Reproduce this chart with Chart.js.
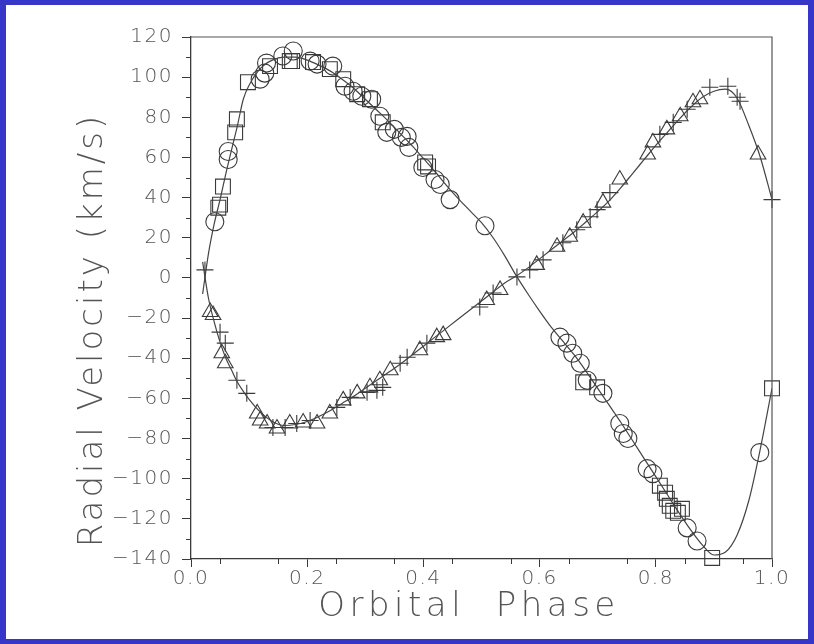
<!DOCTYPE html>
<html>
<head>
<meta charset="utf-8">
<script src="https://cdn.jsdelivr.net/npm/chart.js@4"></script>
<style>
  html, body { margin: 0; padding: 0; background: #fff; }
  #wrap { position: relative; width: 814px; height: 644px; }
  #rv { position: absolute; left: 0; top: 0; }
  #frame { position: absolute; left: 0; top: 0; width: 802px; height: 634px;
           border: 6px solid #3636c8; border-top-width: 5px; pointer-events: none; }
</style>
</head>
<body>
<div id="wrap">
  <canvas id="rv" width="814" height="644"></canvas>
  <div id="frame"></div>
</div>
<script>
// Observed velocities, [phase, km/s]
const primaryCircles = [
  [0.041, 28], [0.064, 63], [0.064, 59], [0.119, 99], [0.127, 102], [0.130, 107],
  [0.158, 110.5], [0.176, 113], [0.205, 108], [0.217, 106.5], [0.244, 105.5],
  [0.265, 95.5], [0.279, 93], [0.294, 90.5], [0.311, 89], [0.325, 80.5],
  [0.337, 72.5], [0.350, 74], [0.362, 70], [0.372, 70.5], [0.375, 65],
  [0.399, 55], [0.420, 49], [0.429, 46.5], [0.446, 39], [0.506, 26],
  [0.635, -29.5], [0.647, -32.5], [0.657, -37.5], [0.670, -42.5], [0.682, -51],
  [0.709, -57.5], [0.738, -72.5], [0.744, -77.5], [0.752, -80], [0.785, -95],
  [0.795, -97.5], [0.854, -124.5], [0.871, -131], [0.979, -87]
];
const primarySquares = [
  [0.047, 35], [0.050, 36.5], [0.055, 45.5], [0.076, 72.5], [0.079, 79],
  [0.098, 97.5], [0.136, 105.5], [0.170, 108], [0.174, 108], [0.210, 107.5],
  [0.239, 104], [0.262, 99], [0.286, 91.5], [0.308, 89], [0.330, 77.5],
  [0.403, 57.5], [0.408, 55.5], [0.675, -52], [0.699, -54.5], [0.807, -103.5],
  [0.816, -107], [0.819, -110], [0.824, -113.5], [0.830, -116], [0.838, -117],
  [0.845, -115], [0.897, -139.5], [1.000, -55]
];
const secondaryPlus = [
  [0.024, 4], [0.050, -27], [0.059, -32.5], [0.079, -51], [0.096, -57.5],
  [0.141, -74.5], [0.162, -74.5], [0.182, -72.5], [0.205, -71], [0.251, -64.5],
  [0.274, -59.5], [0.303, -57], [0.320, -56], [0.330, -54.5], [0.360, -42.5],
  [0.372, -39.5], [0.406, -32.5], [0.497, -14.5], [0.520, -7.5], [0.561, 0.5],
  [0.583, 4], [0.606, 9], [0.640, 17.5], [0.664, 24], [0.687, 30.5], [0.699, 34],
  [0.721, 42.5], [0.807, 71.5], [0.830, 77.5], [0.854, 84], [0.893, 95],
  [0.924, 95.5], [0.940, 90], [0.945, 88], [1.000, 39]
];
const secondaryTriangles = [
  [0.033, -17], [0.038, -18.5], [0.053, -37.5], [0.059, -42.5], [0.114, -67.5],
  [0.119, -71], [0.131, -72.5], [0.148, -75], [0.170, -72.5], [0.193, -72],
  [0.217, -72.5], [0.239, -67.5], [0.262, -61], [0.286, -57.5], [0.308, -54.5],
  [0.325, -51], [0.343, -46], [0.394, -36], [0.423, -29.5], [0.434, -28.5],
  [0.509, -11], [0.532, -6], [0.595, 6.5], [0.630, 15.5], [0.652, 20.5],
  [0.675, 27.5], [0.709, 37.5], [0.738, 49], [0.786, 61.5], [0.795, 67.5],
  [0.819, 74], [0.842, 80.5], [0.864, 87.5], [0.876, 89], [0.976, 61.5]
];

// Orbit solution curves
const curvePhase = [0.02, 0.03, 0.04, 0.05, 0.06, 0.07, 0.08, 0.09, 0.10, 0.12,
  0.14, 0.16, 0.18, 0.20, 0.22, 0.24, 0.26, 0.28, 0.30, 0.32, 0.34, 0.36, 0.38,
  0.40, 0.42, 0.44, 0.46, 0.48, 0.50, 0.52, 0.54, 0.56, 0.58, 0.60, 0.62, 0.64,
  0.66, 0.68, 0.70, 0.72, 0.74, 0.76, 0.78, 0.80, 0.82, 0.84, 0.86, 0.88, 0.90,
  0.92, 0.94, 0.96, 0.98, 1.00];
const primaryCurve = [-8, 12, 27, 39, 52, 64, 76, 89, 96, 104.5,
  108.5, 110, 110, 108.5, 106, 103, 99, 94.5, 89, 83.5, 78, 72, 66,
  59.5, 53, 46, 39.5, 33.5, 27.5, 20, 11, 1, -8, -16.5, -24.5, -31.5,
  -38.5, -46.5, -55, -63.5, -72, -81, -90, -99, -108, -117, -125.5, -133, -138,
  -136.5, -128, -111, -85, -55];
const secondaryCurve = [8, -10, -22, -32, -40, -46, -52, -56.5, -60.5, -67,
  -71.5, -73.5, -73, -71.5, -69, -66, -62.5, -59, -55, -51, -47, -43, -38.5,
  -34, -29.5, -25, -20.5, -16, -11.5, -7, -2.5, 1, 5, 9.5, 14, 18.5,
  23, 28, 33, 38.5, 45, 52, 59, 66, 72.5, 79, 85, 90, 93,
  94, 89.5, 76, 60, 39];

const xTicks = [0, 0.2, 0.4, 0.6, 0.8, 1.0];
const yTicks = [-140, -120, -100, -80, -60, -40, -20, 0, 20, 40, 60, 80, 100, 120];
const xTitle = 'Orbital  Phase';
const yTitle = 'Radial Velocity (km/s)';

const ink = '#3a3a3a';
const textGray = '#555';
const toXY = arr => arr.map(p => ({ x: p[0], y: p[1] }));
const curveXY = vals => curvePhase.map((ph, i) => ({ x: ph, y: vals[i] }));

function markerSet(label, arr, style, radius) {
  return {
    type: 'scatter', label: label, data: toXY(arr),
    pointStyle: style, pointRadius: radius, pointHoverRadius: radius,
    borderColor: ink, backgroundColor: 'rgba(0,0,0,0)', pointBorderWidth: 1.1,
    clip: false
  };
}
function curveSet(label, vals) {
  return {
    type: 'line', label: label, data: curveXY(vals),
    borderColor: '#444', borderWidth: 1.2, pointRadius: 0,
    cubicInterpolationMode: 'monotone', fill: false
  };
}

// slightly wide lettering for the tick labels, like the plotter font
const wideText = {
  id: 'wideText',
  beforeDraw(chart) { chart.ctx.letterSpacing = '1.5px'; },
  afterDraw(chart) { chart.ctx.letterSpacing = '0px'; }
};

// box lines on top/right, minor ticks and the two axis titles
const frameAndMinor = {
  id: 'frameAndMinor',
  afterDraw(chart) {
    const { ctx, chartArea: a, scales: { x, y } } = chart;
    ctx.save();
    ctx.strokeStyle = '#555';
    ctx.lineWidth = 1.2;
    ctx.beginPath();
    ctx.moveTo(a.left, a.top); ctx.lineTo(a.right, a.top); ctx.lineTo(a.right, a.bottom);
    ctx.stroke();
    ctx.strokeStyle = ink;
    ctx.lineWidth = 1;
    ctx.beginPath();
    for (let v = -130; v < 120; v += 20) {
      const py = Math.round(y.getPixelForValue(v)) + 0.5;
      ctx.moveTo(a.left - 5, py); ctx.lineTo(a.left, py);
    }
    for (let k = 1; k < 20; k += 2) {
      const px = Math.round(x.getPixelForValue(k * 0.05)) + 0.5;
      ctx.moveTo(px, a.bottom); ctx.lineTo(px, a.bottom + 5);
    }
    ctx.stroke();

    ctx.fillStyle = textGray;
    ctx.font = '200 34px "DejaVu Sans"';
    ctx.textAlign = 'center';
    ctx.textBaseline = 'middle';
    ctx.letterSpacing = '4.5px';
    ctx.fillText(xTitle, 469, 607);
    ctx.letterSpacing = '3px';
    ctx.translate(93, 330);
    ctx.rotate(-Math.PI / 2);
    ctx.fillText(yTitle, 0, 0);
    ctx.restore();
  }
};

const tickFont = { family: 'DejaVu Sans', size: 20, weight: '200' };

new Chart(document.getElementById('rv'), {
  data: {
    datasets: [
      curveSet('Primary orbit', primaryCurve),
      curveSet('Secondary orbit', secondaryCurve),
      markerSet('Primary (circles)', primaryCircles, 'circle', 9),
      markerSet('Primary (squares)', primarySquares, 'rect', 10.5),
      markerSet('Secondary (plus)', secondaryPlus, 'cross', 8.5),
      markerSet('Secondary (triangles)', secondaryTriangles, 'triangle', 9)
    ]
  },
  options: {
    responsive: false,
    animation: false,
    events: [],
    layout: { padding: { left: 0, top: 37, right: 42, bottom: 0 } },
    plugins: { legend: { display: false }, tooltip: { enabled: false } },
    scales: {
      x: {
        type: 'linear', min: 0, max: 1,
        afterFit: s => { s.height = 85; },
        afterBuildTicks: s => { s.ticks = xTicks.map(v => ({ value: v })); },
        ticks: { color: textGray, font: tickFont, padding: 0, maxRotation: 0,
                 callback: v => v.toFixed(1) },
        grid: { drawOnChartArea: false, drawTicks: true, tickLength: 8, color: ink },
        border: { color: ink, width: 1.3 }
      },
      y: {
        type: 'linear', min: -140, max: 120,
        afterFit: s => { s.width = 191; },
        afterBuildTicks: s => { s.ticks = yTicks.map(v => ({ value: v })); },
        ticks: { color: textGray, font: tickFont, padding: 9,
                 callback: v => (v < 0 ? '\u2212' + Math.abs(v) : String(v)) },
        grid: { drawOnChartArea: false, drawTicks: true, tickLength: 9, color: ink },
        border: { color: ink, width: 1.3 }
      }
    }
  },
  plugins: [wideText, frameAndMinor]
});
</script>
</body>
</html>
